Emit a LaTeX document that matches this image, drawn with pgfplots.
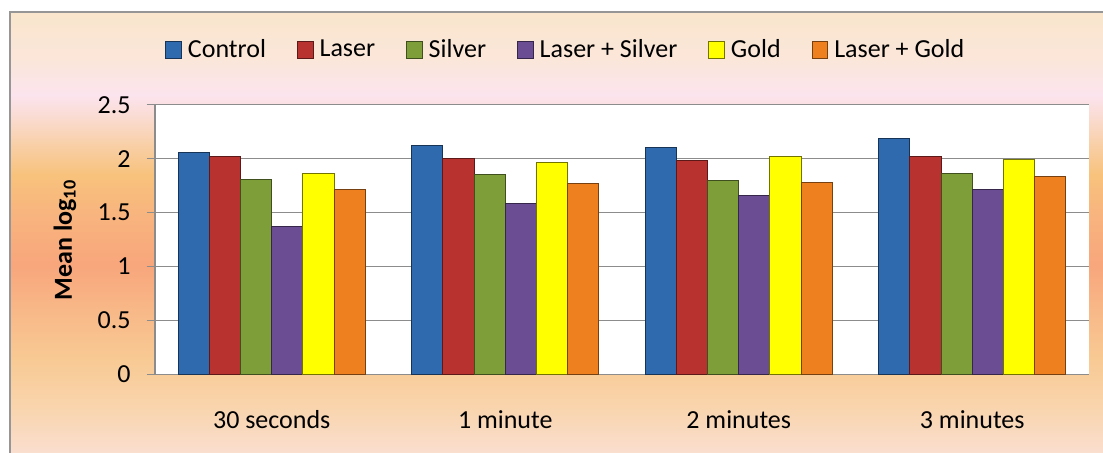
\documentclass[border=0pt]{standalone}
\usepackage{fontspec}
\setmainfont{Carlito}
\usepackage{pgfplots}
\pgfplotsset{compat=1.18}

\definecolor{cC}{HTML}{2F69AE}
\definecolor{cL}{HTML}{B83330}
\definecolor{cS}{HTML}{7E9E3A}
\definecolor{cLS}{HTML}{6A4D93}
\definecolor{cG}{HTML}{FFFF00}
\definecolor{cLG}{HTML}{EE8020}
\definecolor{gridgray}{HTML}{8C8C8C}
\definecolor{bordergray}{HTML}{969696}

\definecolor{b1}{HTML}{F9E6CC}
\definecolor{b2}{HTML}{FBE6DA}
\definecolor{b3}{HTML}{FCE4EE}
\definecolor{b4}{HTML}{FADBD0}
\definecolor{b5}{HTML}{F8CFA6}
\definecolor{b6}{HTML}{F8C27C}
\definecolor{b7}{HTML}{F8B47E}
\definecolor{b8}{HTML}{F8A67C}
\definecolor{b9}{HTML}{F8B888}
\definecolor{b10}{HTML}{F8CA94}
\definecolor{b11}{HTML}{F9D4AC}
\definecolor{b12}{HTML}{FADFD2}

\pgfplotsset{
  bevel/.style={fill=#1, draw=#1!50!black, line width=0.5pt},
}

\begin{document}
\fontsize{13pt}{15.6pt}\selectfont
\begin{tikzpicture}[x=0.5pt,y=0.5pt]
\path[use as bounding box] (0,0) rectangle (1103,453);
\begin{scope}
\clip (0,0) rectangle (1103,453);
\fill[white] (0,0) rectangle (1103,453);
\shade[top color=b1,bottom color=b2] (10,441) rectangle (1110,392.5);
\shade[top color=b2,bottom color=b3] (10,393) rectangle (1110,357.5);
\shade[top color=b3,bottom color=b4] (10,358) rectangle (1110,334.5);
\shade[top color=b4,bottom color=b5] (10,335) rectangle (1110,307.5);
\shade[top color=b5,bottom color=b6] (10,308) rectangle (1110,277.5);
\shade[top color=b6,bottom color=b7] (10,278) rectangle (1110,237.5);
\shade[top color=b7,bottom color=b8] (10,238) rectangle (1110,187.5);
\shade[top color=b8,bottom color=b9] (10,188) rectangle (1110,142.5);
\shade[top color=b9,bottom color=b10] (10,143) rectangle (1110,92.5);
\shade[top color=b10,bottom color=b11] (10,93) rectangle (1110,47.5);
\shade[top color=b11,bottom color=b12] (10,48) rectangle (1110,-5);
\draw[bordergray, line width=0.85pt] (10,-10) -- (10,441) -- (1120,441);
\end{scope}
\begin{axis}[
  at={(77.5pt,39.35pt)}, anchor=south west,
  scale only axis, width=467pt, height=134.8pt,
  xmin=-0.5, xmax=3.5, ymin=0, ymax=2.5,
  ybar=0pt, bar width=15.6pt,
  axis background/.style={fill=white},
  axis lines*=left,
  axis line style={draw=gridgray, line width=0.75pt},
  ymajorgrids, grid style={draw=gridgray, line width=0.75pt},
  ytick={0,0.5,1,1.5,2,2.5}, yticklabels={0,0.5,1,1.5,2,2.5},
  xtick={0,1,2,3}, xticklabels={30 seconds,1 minute,2 minutes,3 minutes},
  x tick style={draw=none},
  y tick style={draw=gridgray, line width=0.75pt},
  tick align=outside, major tick length=4.2pt,
  yticklabel style={anchor=east, xshift=-3.5pt},
  xticklabel style={anchor=base, yshift=-23pt},
  ylabel={\textbf{Mean log\textsubscript{10}}},
  every axis y label/.style={at={(axis description cs:-0.0964,0.498)}, rotate=90, anchor=center},
  legend style={at={(axis description cs:0.442,1.203)}, anchor=center, draw=none, fill=none,
    legend columns=6, /tikz/every even column/.append style={column sep=12.5pt},
    nodes={inner xsep=3pt}},
  legend image code/.code={\draw[#1] (0pt,-4.15pt) rectangle (7.8pt,4.15pt);},
]
\addplot[bevel=cC] coordinates {(0,2.06) (1,2.12) (2,2.10) (3,2.19)};
\addplot[bevel=cL] coordinates {(0,2.02) (1,2.00) (2,1.98) (3,2.02)};
\addplot[bevel=cS] coordinates {(0,1.81) (1,1.85) (2,1.80) (3,1.86)};
\addplot[bevel=cLS] coordinates {(0,1.37) (1,1.58) (2,1.66) (3,1.71)};
\addplot[fill=cG, draw=cG!45!black, line width=0.5pt] coordinates {(0,1.86) (1,1.96) (2,2.02) (3,1.99)};
\addplot[bevel=cLG] coordinates {(0,1.71) (1,1.77) (2,1.78) (3,1.83)};
\legend{Control,Laser,Silver,Laser + Silver,Gold,Laser + Gold}
\end{axis}
\end{tikzpicture}
\end{document}
